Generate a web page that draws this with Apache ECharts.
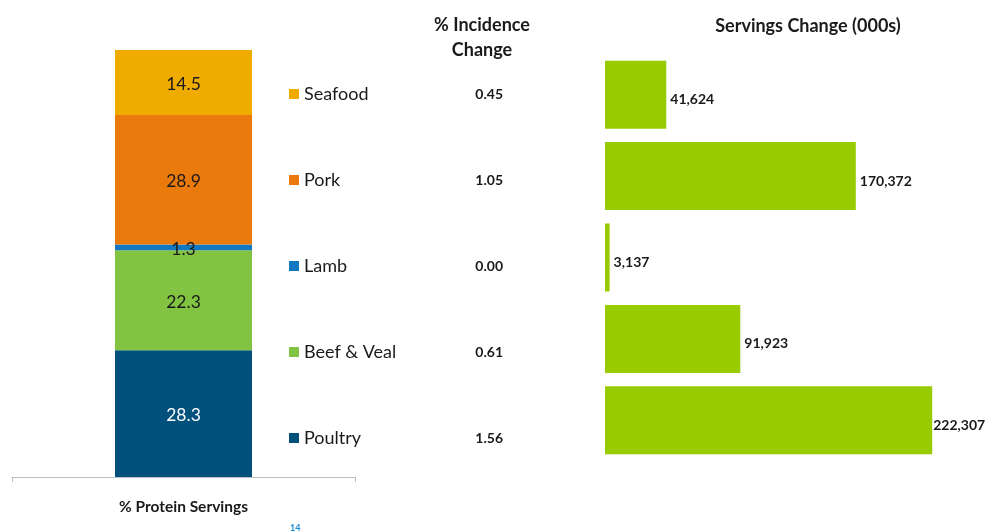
<!DOCTYPE html>
<html>
<head>
<meta charset="utf-8">
<script src="https://cdn.jsdelivr.net/npm/echarts@6/dist/echarts.min.js"></script>
<style>
  html, body { margin: 0; padding: 0; background: #fff; }
  #main { width: 988px; height: 532px; }
</style>
</head>
<body>
<div id="main"></div>
<script>
// data
var proteins = ['Poultry', 'Beef & Veal', 'Lamb', 'Pork', 'Seafood'];
var shareServings = [28.3, 22.3, 1.3, 28.9, 14.5];
var incidenceChange = [1.56, 0.61, 0.00, 1.05, 0.45];
var servingsChange = [222307, 91923, 3137, 170372, 41624];
var colors = ['#02507C', '#82C341', '#1078C0', '#EA7A0B', '#F0AB00'];

var font = 'Lato, "Liberation Sans", sans-serif';

// top-to-bottom order for the right hand columns
var rows = proteins.slice().reverse();
var incRows = incidenceChange.slice().reverse();
var servRows = servingsChange.slice().reverse();

var myChart = echarts.init(document.getElementById('main'));

var stackSeries = proteins.map(function (name, i) {
    return {
        name: name,
        type: 'bar',
        stack: 'share',
        xAxisIndex: 0,
        yAxisIndex: 0,
        barWidth: 137,
        itemStyle: {color: colors[i]},
        label: {
            show: true,
            position: 'inside',
            offset: [0, 2],
            fontFamily: font,
            fontSize: 17.5,
            color: name == 'Poultry' ? '#ffffff' : '#1a1a1a'
        },
        data: [shareServings[i]]
    };
});

// longest bar: label sits right against the bar end
var servData = servRows.map(function (v) {
    if (v == Math.max.apply(null, servRows)) {
        return {value: v, label: {distance: 1}};
    }
    return v;
});

var option = {
    animation: false,
    backgroundColor: '#ffffff',
    textStyle: {fontFamily: font},
    title: [
        {
            text: '% Incidence\nChange',
            left: 477, top: 8, textAlign: 'center',
            textStyle: {fontSize: 18, fontWeight: 'bold', color: '#1a1a1a', lineHeight: 25, fontFamily: font}
        },
        {
            text: 'Servings Change (000s)',
            left: 803, top: 12, textAlign: 'center',
            textStyle: {fontSize: 18, fontWeight: 'bold', color: '#1a1a1a', fontFamily: font}
        },
        {
            text: '14',
            left: 285, top: 519,
            textStyle: {fontSize: 9, fontWeight: 'bold', color: '#1f8dd6', fontFamily: font}
        },
        {
            text: 'Source: The NPD Group/CREST\u00ae, YE June \u201917',
            left: 703, top: 527,
            textStyle: {fontSize: 11, fontStyle: 'italic', color: '#333', fontFamily: font}
        }
    ],
    legend: {
        orient: 'vertical',
        left: 284, top: 79,
        itemWidth: 10, itemHeight: 10, itemGap: 66,
        icon: 'rect',
        data: rows,
        textStyle: {fontSize: 18, color: '#1a1a1a', lineHeight: 20, fontFamily: font},
        selectedMode: false
    },
    grid: [
        {left: 12, width: 343, top: 50, bottom: 55},
        {left: 505, width: 10, top: 51, height: 430},
        {left: 605, width: 368, top: 54, height: 407}
    ],
    xAxis: [
        {
            gridIndex: 0, type: 'category', data: ['% Protein Servings'],
            axisLine: {lineStyle: {color: '#bfbfbf'}},
            axisTick: {show: true, length: 5, lineStyle: {color: '#bfbfbf'}},
            axisLabel: {margin: 22, fontSize: 15.5, fontWeight: 'bold', color: '#1a1a1a', fontFamily: font}
        },
        {gridIndex: 1, type: 'value', show: false},
        {gridIndex: 2, type: 'value', min: 0, max: 250000, show: false}
    ],
    yAxis: [
        {gridIndex: 0, type: 'value', min: 0, max: 95.3, show: false},
        {
            gridIndex: 1, type: 'category', inverse: true, data: rows,
            axisLine: {show: false}, axisTick: {show: false},
            axisLabel: {
                margin: 2, fontSize: 14, fontWeight: 'bold', color: '#1a1a1a', fontFamily: font,
                formatter: function (v, idx) { return incRows[idx].toFixed(2); }
            }
        },
        {
            gridIndex: 2, type: 'category', inverse: true, data: rows,
            axisLine: {show: false}, axisTick: {show: false}, axisLabel: {show: false}
        }
    ],
    series: stackSeries.concat([
        {
            name: 'Servings Change',
            type: 'bar',
            xAxisIndex: 2,
            yAxisIndex: 2,
            barWidth: 68,
            itemStyle: {color: '#99CC00'},
            label: {
                show: true,
                position: 'right',
                distance: 4,
                offset: [0, 5],
                fontFamily: font,
                fontSize: 14,
                fontWeight: 'bold',
                color: '#1a1a1a',
                formatter: function (p) { return p.value.toLocaleString('en-US'); }
            },
            data: servData
        }
    ])
};

myChart.setOption(option);
</script>
</body>
</html>
